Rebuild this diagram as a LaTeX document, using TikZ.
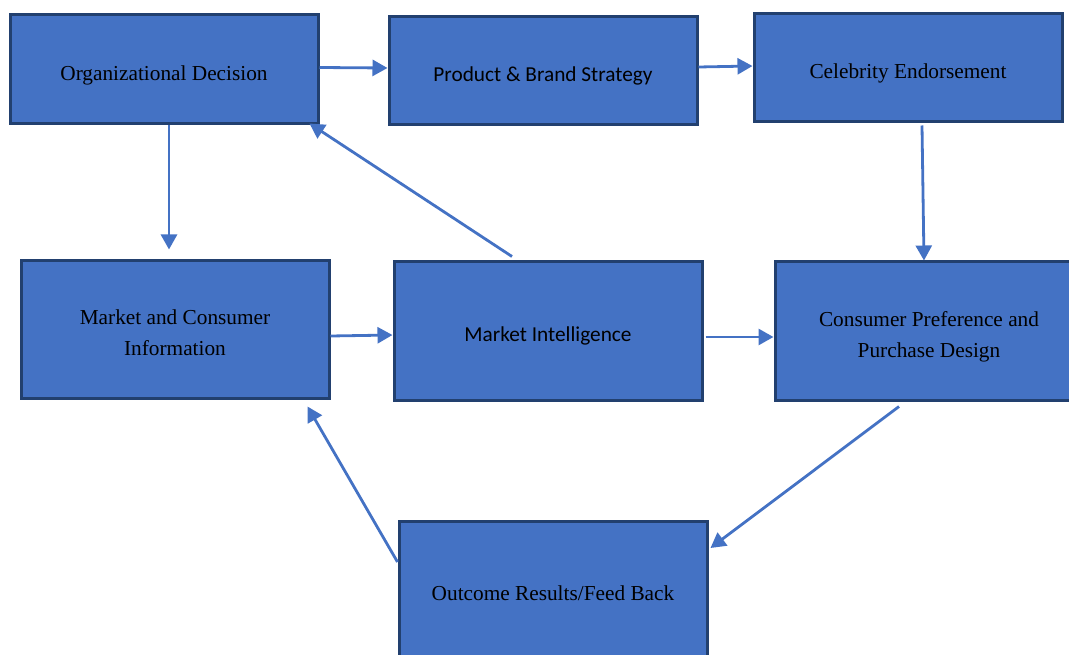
\documentclass[tikz,border=0pt]{standalone}
\usepackage{fontspec}
\setmainfont{Liberation Serif}
\newfontfamily\calfont{Carlito}
\usetikzlibrary{arrows.meta}
\definecolor{boxfill}{HTML}{4472C4}
\definecolor{boxline}{HTML}{22406F}
\definecolor{arrcol}{HTML}{4472C4}
\newcommand\dn[1]{\raisebox{-4.5pt}[\height][\depth]{\begin{tabular}{@{}c@{}}#1\end{tabular}}}
\begin{document}
\begin{tikzpicture}[x=1pt,y=-1pt,
  blockbox/.style={draw=boxline, line width=3pt, fill=boxfill, rectangle,
    minimum width=308pt, inner sep=0pt,
    font=\fontsize{21.3pt}{31pt}\selectfont, text=black},
  calbox/.style={blockbox, font=\calfont\fontsize{21.3pt}{31pt}\selectfont},
  arr/.style={draw=arrcol, line width=2.8pt, -{Triangle[length=15pt,width=16pt]}}]
\useasboundingbox (0,0) rectangle (1069,655);
\node[blockbox, minimum height=109pt] (od) at (164,69.5) {\dn{Organizational Decision}};
\node[calbox, minimum height=108pt] (pbs) at (543,71) {\dn{Product \& Brand Strategy}};
\node[blockbox, minimum height=108pt] (ce) at (908,68) {\dn{Celebrity Endorsement}};
\node[blockbox, minimum height=137pt] (mci) at (175,329.5) {\dn{Market and Consumer\\Information}};
\node[calbox, minimum height=138pt] (mi) at (548,331) {\dn{Market Intelligence}};
\node[blockbox, minimum height=138pt] (cppd) at (929,331) {\dn{Consumer Preference and\\Purchase Design}};
\node[blockbox, minimum height=138pt] (or) at (553,590) {\dn{Outcome Results/Feed Back}};
\draw[arr] ([yshift=2pt]od.east) -- ([yshift=3pt]pbs.west);
\draw[arr] ([yshift=4pt]pbs.east) -- ([yshift=2pt]ce.west);
\draw[arr] ([xshift=5pt]od.south) -- ([xshift=5pt,yshift=10pt]od.south |- mci.north);
\draw[arr] ([xshift=-36pt,yshift=4pt]mi.north) -- ([xshift=-10pt,yshift=2pt]od.south east);
\draw[arr] ([yshift=-6.5pt]mci.east) -- ([yshift=-4pt]mi.west);
\draw[arr] ([xshift=2pt,yshift=-6pt]mi.east) -- ([yshift=-6pt]cppd.west);
\draw[arr] ([xshift=14pt,yshift=-2pt]ce.south) -- ([xshift=-5pt]cppd.north);
\draw[arr] ([xshift=-30pt,yshift=-5pt]cppd.south) -- ([xshift=2pt,yshift=42pt]or.east);
\draw[arr] ([yshift=28pt]or.west) -- ([xshift=-23pt,yshift=-7pt]mci.south east);
\end{tikzpicture}
\end{document}
